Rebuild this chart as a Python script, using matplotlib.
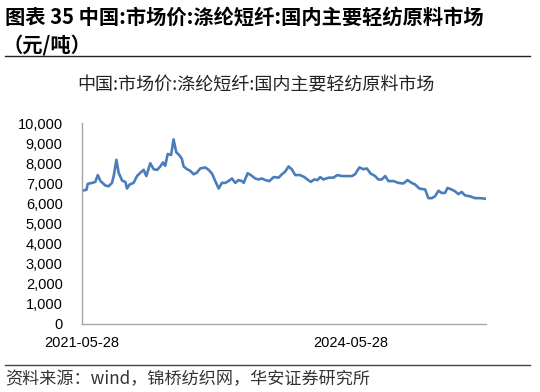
import numpy as np
import pandas as pd
import matplotlib
matplotlib.use('Agg')
import matplotlib.pyplot as plt
from matplotlib.ticker import FuncFormatter

plt.rcParams['font.family'] = ['Noto Sans CJK SC', 'DejaVu Sans']

# data (yuan/ton)
dates = ['2021-05-28', '2021-06-15', '2021-06-20', '2021-07-08', '2021-07-21', '2021-07-31',
         '2021-08-11', '2021-08-31', '2021-09-13', '2021-09-27', '2021-10-04', '2021-10-15',
         '2021-10-24', '2021-11-07', '2021-11-21', '2021-11-27', '2021-12-08', '2021-12-24',
         '2022-01-07', '2022-01-21', '2022-02-03', '2022-02-14', '2022-03-02', '2022-03-16',
         '2022-03-30', '2022-04-12', '2022-04-23', '2022-05-02', '2022-05-12', '2022-05-26',
         '2022-06-05', '2022-06-16', '2022-06-30', '2022-07-09', '2022-07-16', '2022-07-30',
         '2022-08-12', '2022-08-26', '2022-09-08', '2022-09-22', '2022-10-12', '2022-10-26',
         '2022-11-09', '2022-11-22', '2022-12-06', '2022-12-19', '2023-01-02', '2023-01-15',
         '2023-01-29', '2023-02-12', '2023-02-25', '2023-03-11', '2023-03-18', '2023-04-03',
         '2023-04-16', '2023-05-04', '2023-05-18', '2023-05-31', '2023-06-14', '2023-07-01',
         '2023-07-18', '2023-08-07', '2023-08-21', '2023-09-03', '2023-09-17', '2023-09-30',
         '2023-10-14', '2023-11-03', '2023-11-20', '2023-12-03', '2023-12-17', '2023-12-30',
         '2024-01-13', '2024-01-24', '2024-02-06', '2024-02-27', '2024-03-18', '2024-04-03',
         '2024-04-21', '2024-05-11', '2024-06-01', '2024-06-14', '2024-07-02', '2024-07-18',
         '2024-08-01', '2024-08-17', '2024-09-04', '2024-09-17', '2024-10-01', '2024-10-15',
         '2024-10-28', '2024-11-18', '2024-12-08', '2024-12-28', '2025-01-14', '2025-01-31',
         '2025-02-14', '2025-03-03', '2025-03-27', '2025-04-09', '2025-04-23', '2025-05-06',
         '2025-05-20', '2025-06-02', '2025-06-16', '2025-06-26', '2025-07-13', '2025-07-27',
         '2025-08-09', '2025-08-23', '2025-09-05', '2025-09-26', '2025-10-16', '2025-11-06',
         '2025-11-30']
prices = [6640, 6690, 6980, 7030, 7080, 7420,
          7120, 6900, 6860, 7030, 7370, 8180,
          7540, 7150, 7070, 6750, 6950, 7030,
          7370, 7540, 7680, 7370, 8010, 7710,
          7680, 7850, 8050, 7880, 8470, 8420,
          9200, 8560, 8390, 8220, 7850, 7710,
          7630, 7460, 7540, 7750, 7800, 7680,
          7490, 7120, 6750, 7030, 7030, 7120,
          7250, 7030, 7170, 7120, 7030, 7510,
          7420, 7250, 7200, 7250, 7170, 7120,
          7320, 7290, 7460, 7590, 7850, 7710,
          7420, 7420, 7320, 7200, 7080, 7200,
          7170, 7320, 7200, 7290, 7290, 7420,
          7370, 7370, 7370, 7460, 7800, 7710,
          7750, 7490, 7370, 7200, 7200, 7370,
          7120, 7120, 7030, 7000, 7170, 7030,
          6950, 6750, 6700, 6270, 6270, 6360,
          6640, 6530, 6530, 6780, 6700, 6610,
          6470, 6580, 6410, 6360, 6270, 6270,
          6240]
xtick_dates = ['2021-05-28', '2024-05-28']

x = pd.to_datetime(dates)

fig = plt.figure(figsize=(5.4, 3.92), dpi=100)
ax = fig.add_axes([0.152, 0.1735, 0.748, 0.512])

ax.plot(x, prices, color='#4a7ebb', lw=1.9)

ax.set_ylim(0, 10000)
ax.set_yticks(np.arange(0, 10001, 1000))
ax.yaxis.set_major_formatter(FuncFormatter(lambda v, p: f'{int(v):,}'))
ax.set_xlim(x[0], x[-1])
ax.set_xticks(pd.to_datetime(xtick_dates))
ax.set_xticklabels(xtick_dates)

for lab in ax.get_xticklabels() + ax.get_yticklabels():
    lab.set_family(['Liberation Sans', 'DejaVu Sans'])
    lab.set_fontsize(10.5)
ax.tick_params(axis='y', length=0, pad=14)
ax.tick_params(axis='x', length=0, pad=9)

for s in ['top', 'right']:
    ax.spines[s].set_visible(False)
for s in ['left', 'bottom']:
    ax.spines[s].set_color('#a6a6a6')
    ax.spines[s].set_linewidth(1.0)

# headings
fig.text(0.01, 1 - 17 / 392, '图表 35 中国:市场价:涤纶短纤:国内主要轻纺原料市场',
         fontsize=14.6, fontweight='bold', va='center', ha='left')
fig.text(0.005, 1 - 45 / 392, '（元/吨）', fontsize=14.6, fontweight='bold',
         va='center', ha='left')
fig.add_artist(plt.Line2D([5 / 540, 530 / 540], [1 - 56 / 392] * 2,
                          color='#222222', lw=1.0))
fig.text(256 / 540, 1 - 85 / 392, '中国:市场价:涤纶短纤:国内主要轻纺原料市场',
         fontsize=13, va='center', ha='center', color='#222222')

# footer
fig.add_artist(plt.Line2D([5 / 540, 530 / 540], [1 - 365 / 392] * 2,
                          color='#444444', lw=1.0))
fig.text(0.01, 1 - 379 / 392, '资料来源：wind，锦桥纺织网，华安证券研究所',
         fontsize=12.3, va='center', ha='left', color='#333333')

fig.savefig('out.png', dpi=100)
